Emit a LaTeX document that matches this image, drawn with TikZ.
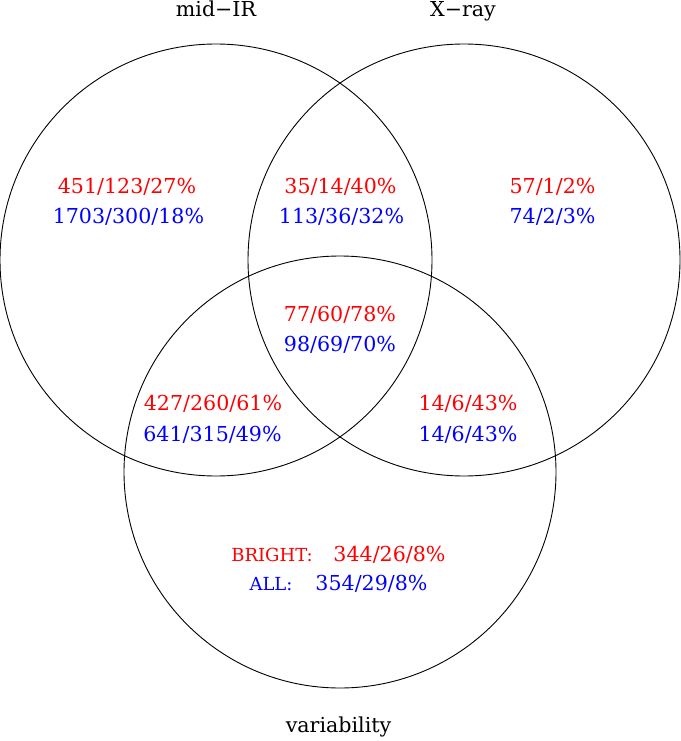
\documentclass[tikz,border=0pt]{standalone}
\usepackage{fontspec}
\setmainfont{DejaVu Serif}
\begin{document}
\begin{tikzpicture}[x=1pt,y=-1pt,
  ring/.style={circle, draw=black, line width=0.9pt, inner sep=0pt, minimum size=432pt},
  txt/.style={anchor=base, inner sep=0pt, font=\fontsize{20.6}{24}\selectfont},
  smalltxt/.style={anchor=base, inner sep=0pt, font=\fontsize{18}{22}\selectfont},
  bright/.style={text=red},
  all/.style={text=blue}]
\useasboundingbox (0,0) rectangle (680,741);
% circles
\node[ring] (mir) at (216,260) {};
\node[ring] (xray) at (464,260) {};
\node[ring] (var) at (340,472) {};
% labels
\node[txt] (lmir) at (216,17) {mid−IR};
\node[txt] (lxray) at (463,17) {X−ray};
\node[txt] (lvar) at (338.5,732) {variability};
% mid-IR only
\node[txt,bright] (a1) at (127,193) {451/123/27\%};
\node[txt,all] (a2) at (128.5,223.5) {1703/300/18\%};
% mid-IR & X-ray
\node[txt,bright] (b1) at (340.5,193) {35/14/40\%};
\node[txt,all] (b2) at (341.5,223.5) {113/36/32\%};
% X-ray only
\node[txt,bright] (c1) at (552.5,193) {57/1/2\%};
\node[txt,all] (c2) at (552.5,223.5) {74/2/3\%};
% all three
\node[txt,bright] (d1) at (340,321) {77/60/78\%};
\node[txt,all] (d2) at (340,351) {98/69/70\%};
% mid-IR & variability
\node[txt,bright] (e1) at (213,410.5) {427/260/61\%};
\node[txt,all] (e2) at (212.5,441) {641/315/49\%};
% X-ray & variability
\node[txt,bright] (f1) at (468,410.5) {14/6/43\%};
\node[txt,all] (f2) at (468,441) {14/6/43\%};
% variability only
\node[smalltxt,bright] (g0) at (272,561) {BRIGHT:};
\node[txt,bright] (g1) at (389.5,561) {344/26/8\%};
\node[smalltxt,all] (h0) at (271,590) {ALL:};
\node[txt,all] (h1) at (371.5,590) {354/29/8\%};
\end{tikzpicture}
\end{document}
